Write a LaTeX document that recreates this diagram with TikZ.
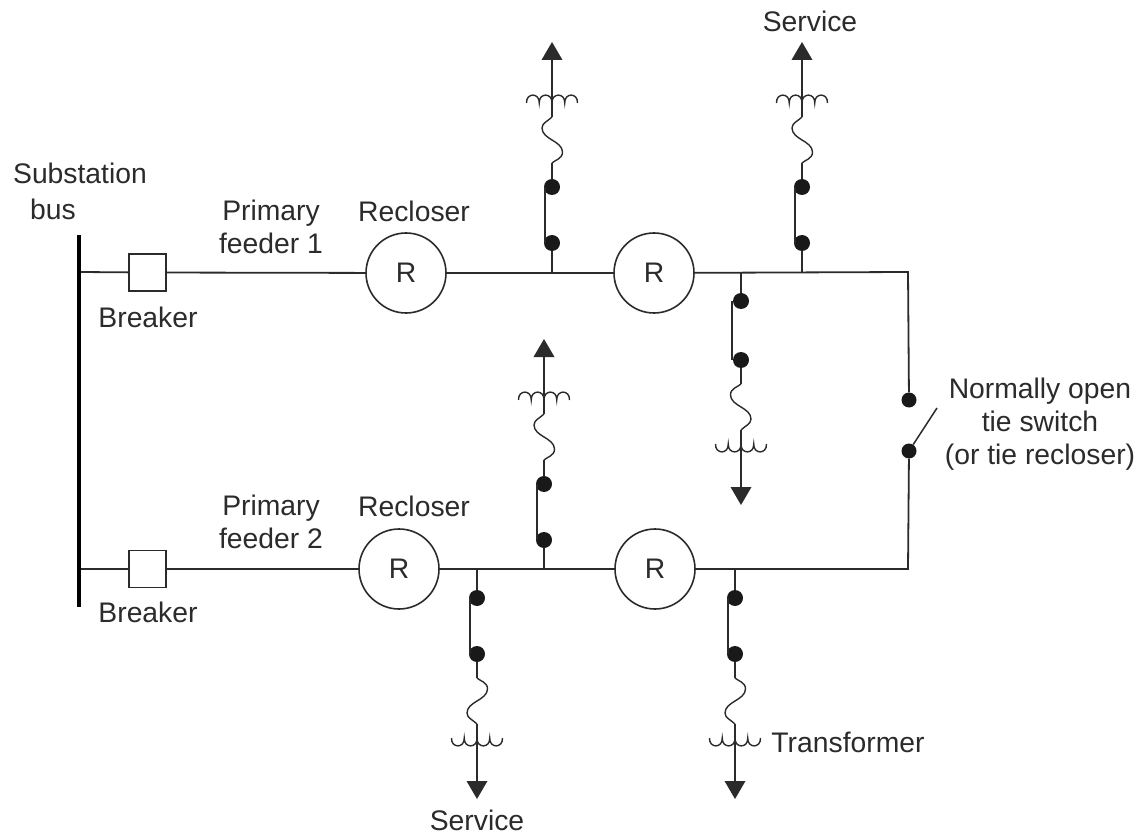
\documentclass[tikz,border=0pt]{standalone}
\usepackage{fontspec}
\setmainfont{Liberation Sans}
\definecolor{ink}{HTML}{2B2B2B}
\tikzset{
  wire/.style={draw=ink,line width=1.8pt},
  busbar/.style={draw=black,line width=4pt},
  contact/.style={circle,fill=black!90,draw=none,inner sep=0pt,minimum size=16pt},
  breakerbox/.style={rectangle,draw=ink,line width=1.5pt,fill=white,minimum size=37pt,inner sep=0pt},
  reclosercirc/.style={circle,draw=ink,line width=1.6pt,fill=white,minimum size=80pt,inner sep=0pt,text=ink,font=\fontsize{28.3}{30}\selectfont},
  lbl/.style={inner sep=0pt,text=ink,align=center,font=\fontsize{28.3}{33}\selectfont},
}
% #1 name, #2 x, #3 y of the tap, #4 rotation (0 up, 180 down), #5 mirror of the fuse (1 or -1), #6 extra length
\newcommand{\tapbranch}[6]{%
  \begin{scope}[shift={(#2,#3)},rotate=#4,xscale=#5]
    \coordinate (#1t) at (0,0);
    \node[contact] (#1a) at (0,-29) {};
    \begin{scope}[shift={(0,-#6)}]
    \node[contact] (#1b) at (0,-85) {};
    \coordinate (#1s) at (0,-109);
    \coordinate (#1e) at (0,-155);
    \coordinate (#1h) at (0,-212);
    \draw[wire] (#1t) -- (#1a);
    \draw[wire] ([xshift=1pt]#1a.west) -- ([xshift=1pt]#1b.west);
    \draw[wire] (#1b) -- (#1s);
    \draw[wire,line width=1.4pt] (#1s) .. controls (3,-112) and (10.5,-113) .. (10.5,-120)
       .. controls (10.5,-125.5) and (5,-129) .. (0,-132)
       .. controls (-5,-135) and (-10,-138.5) .. (-10,-144)
       .. controls (-10,-149) and (-4,-151) .. (#1e);
    \draw[wire] (#1e) -- (#1h);
    \draw[wire,line width=1.4pt] (-25.5,-169)
       .. controls +(-0.5,-10.5) and +(0.5,-10.5) .. ++(12.75,0)
       .. controls +(-0.5,-10.5) and +(0.5,-10.5) .. ++(12.75,0)
       .. controls +(-0.5,-10.5) and +(0.5,-10.5) .. ++(12.75,0)
       .. controls +(-0.5,-10.5) and +(0.5,-10.5) .. ++(12.75,0);
    \fill[ink] (0,-230) -- (-10.5,-212) -- (10.5,-212) -- cycle;
    \end{scope}
  \end{scope}}
\begin{document}
\begin{tikzpicture}[x=1pt,y=-1pt]
\useasboundingbox (0,0) rectangle (1138,834);
\fill[white] (0,0) rectangle (1138,834);
% bus
\coordinate (bustop) at (79,235);
\coordinate (busbot) at (79,607);
\coordinate (bus1) at (79,272);
\coordinate (bus2) at (79,569);
\coordinate (c1) at (908,272);
\coordinate (c2) at (908,569);
\coordinate (blade) at (937,408);
\node[contact,minimum size=15pt] (sw1) at (909,400) {};
\node[contact,minimum size=15pt] (sw2) at (909,451) {};
% feeder 1
\node[breakerbox] (b1) at (147.5,272.5) {};
\node[reclosercirc] (r11) at (406,273) {R};
\node[reclosercirc] (r12) at (654,273) {R};
% feeder 2
\node[breakerbox] (b2) at (147.5,569) {};
\node[reclosercirc] (r21) at (399,569) {R};
\node[reclosercirc] (r22) at (655,569) {R};
\draw[wire] (bus1) -- (b1);
\draw[wire] (b1) -- (r11);
\draw[wire] (r11) -- (r12);
\draw[wire] (r12) -- (c1) -- (sw1);
\draw[wire] (bus2) -- (b2);
\draw[wire] (b2) -- (r21);
\draw[wire] (r21) -- (r22);
\draw[wire] (r22) -- (c2) -- (sw2);
\draw[wire,line width=1.5pt] (sw2) -- (blade);
\draw[busbar] (bustop) -- (busbot);
% branches
\tapbranch{ua}{552}{272}{0}{1}{0}
\tapbranch{ub}{802}{272}{0}{1}{0}
\tapbranch{da}{741}{272}{180}{1}{3}
\tapbranch{uc}{544}{569}{0}{1}{0}
\tapbranch{db}{477}{569}{180}{-1}{0}
\tapbranch{dc}{735}{569}{180}{-1}{0}
% labels
\node[lbl] (t1) at (80,173) {Substation};
\node[lbl] (t2) at (53,209) {bus};
\node[lbl] (t3) at (148,317) {Breaker};
\node[lbl] (t4) at (148,612) {Breaker};
\node[lbl] (t5) at (271,227) {Primary\\feeder 1};
\node[lbl] (t6) at (271,522) {Primary\\feeder 2};
\node[lbl] (t7) at (414,211) {Recloser};
\node[lbl] (t8) at (414,506) {Recloser};
\node[lbl] (t9) at (810,21) {Service};
\node[lbl] (t10) at (477,820) {Service};
\node[lbl] (t11) at (848,742) {Transformer};
\node[lbl] (t12) at (1040,424) {Normally open\\tie switch\\(or tie recloser)};
\end{tikzpicture}
\end{document}
